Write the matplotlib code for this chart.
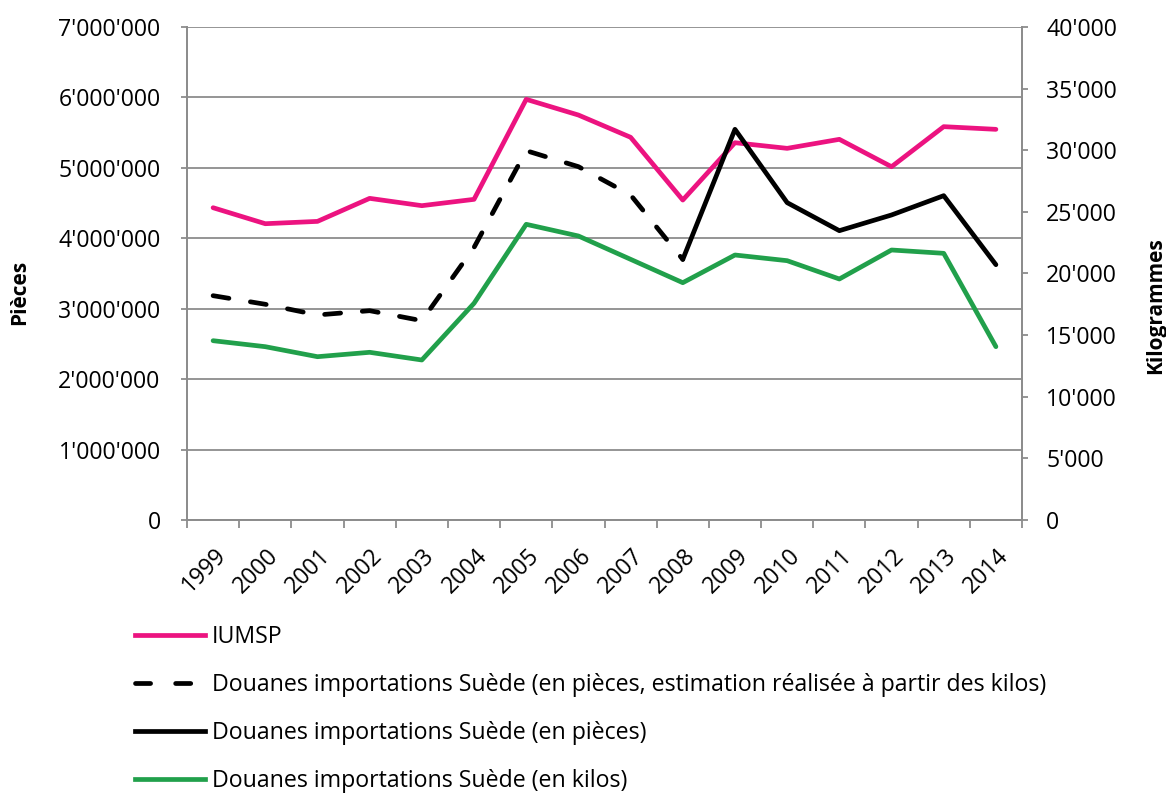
import matplotlib
matplotlib.use("Agg")
import matplotlib.pyplot as plt
import numpy as np
from matplotlib.ticker import FuncFormatter, FixedLocator
from matplotlib.lines import Line2D
from matplotlib.transforms import ScaledTranslation

years = ["1999", "2000", "2001", "2002", "2003", "2004", "2005", "2006",
         "2007", "2008", "2009", "2010", "2011", "2012", "2013", "2014"]

iumsp = [4434000, 4207000, 4240000, 4567000, 4463000, 4553000, 5973000, 5750000,
         5434000, 4543000, 5357000, 5277000, 5405000, 5016000, 5585000, 5547000]

# estimate in pieces from kilos (1999-2008)
estim_pieces = [3185000, 3063000, 2911000, 2972000, 2830000, 3870000, 5244000, 5017000,
                4615000, 3700000, None, None, None, None, None, None]

# pieces (2008-2014)
douane_pieces = [None, None, None, None, None, None, None, None,
                 None, 3700000, 5547000, 4506000, 4108000, 4331000, 4605000, 3625000]

douane_kilos = [14548, 14062, 13250, 13606, 12982, 17582, 23992, 23043,
                21150, 19254, 21501, 21040, 19554, 21907, 21637, 14062]

labels = ["IUMSP",
          "Douanes importations Suède (en pièces, estimation réalisée à partir des kilos)",
          "Douanes importations Suède (en pièces)",
          "Douanes importations Suède (en kilos)"]

PINK = "#EC1380"
GREEN = "#21A04B"
GRID = "#8C8C8C"

plt.rcParams['font.family'] = ['Open Sans', 'DejaVu Sans']

W, H = 1166, 796
fig = plt.figure(figsize=(W / 100, H / 100), dpi=100)
ax = fig.add_axes([187 / W, 1 - 520 / H, (1022 - 187) / W, (520 - 27) / H])
ax2 = ax.twinx()

x = np.arange(len(years))

def to_arr(v):
    return np.array([np.nan if a is None else a for a in v], dtype=float)

lw = 3.4
DASH = (3.4, 4.6)
ax.plot(x, to_arr(iumsp), color=PINK, lw=lw, solid_capstyle='round', solid_joinstyle='round', zorder=3)
ax.plot(x, to_arr(estim_pieces), color='black', lw=lw, dashes=DASH,
        dash_capstyle='round', dash_joinstyle='round', zorder=3)
ax.plot(x, to_arr(douane_pieces), color='black', lw=lw, solid_capstyle='round', solid_joinstyle='round', zorder=4)
ax2.plot(x, to_arr(douane_kilos), color=GREEN, lw=lw, solid_capstyle='round', solid_joinstyle='round')

ax.set_xlim(-0.5, len(years) - 0.5)
ax.set_ylim(0, 7000000)
ax2.set_ylim(0, 40000)

fmt = FuncFormatter(lambda v, p: "{:,}".format(int(round(v))).replace(",", "'"))
ax.yaxis.set_major_locator(FixedLocator(np.arange(0, 7000001, 1000000)))
ax.yaxis.set_major_formatter(fmt)
ax2.yaxis.set_major_locator(FixedLocator(np.arange(0, 40001, 5000)))
ax2.yaxis.set_major_formatter(fmt)

ax.grid(axis='y', color=GRID, lw=1.3)
ax.set_axisbelow(True)

FS = 16.7
# x ticks: labels at centres, tick marks at boundaries
ax.set_xticks(x)
ax.set_xticklabels(years, rotation=45, ha='right', va='top', rotation_mode='anchor')
ax.set_xticks(np.arange(-0.5, len(years), 1.0), minor=True)
ax.tick_params(axis='x', which='major', length=0, pad=17, labelsize=FS)
ax.tick_params(axis='x', which='minor', length=5.5, width=1.3, color=GRID)
ax.tick_params(axis='y', length=4.5, width=1.3, color=GRID, labelsize=FS, pad=14.5)
ax2.tick_params(axis='y', length=4.5, width=1.3, color=GRID, labelsize=FS, pad=13)
for lab in ax.get_xticklabels():
    lab.set_transform(lab.get_transform() + ScaledTranslation(1 / 100, 0, fig.dpi_scale_trans))

for a in (ax, ax2):
    a.spines['top'].set_visible(False)
    for s in ('left', 'right', 'bottom'):
        a.spines[s].set_color(GRID)
        a.spines[s].set_linewidth(1.3)

fig.text(20 / W, 1 - 292 / H, "Pièces", rotation=90, fontsize=15, fontweight='bold',
         ha='center', va='center')
fig.text(1156 / W, 1 - 306 / H, "Kilogrammes", rotation=90, fontsize=15, fontweight='bold',
         ha='center', va='center')

handles = [
    Line2D([], [], color=PINK, lw=lw),
    Line2D([], [], color='black', lw=lw, dashes=(3.2, 5.3), dash_capstyle='round'),
    Line2D([], [], color='black', lw=lw),
    Line2D([], [], color=GREEN, lw=lw),
]
leg = fig.legend(handles, labels, loc='upper left', bbox_to_anchor=(135 / W, 1 - 625 / H),
                 frameon=False, fontsize=FS, handlelength=3.0, handletextpad=0.3,
                 labelspacing=1.04, borderpad=0, borderaxespad=0)

fig.savefig("out.png", dpi=100)
